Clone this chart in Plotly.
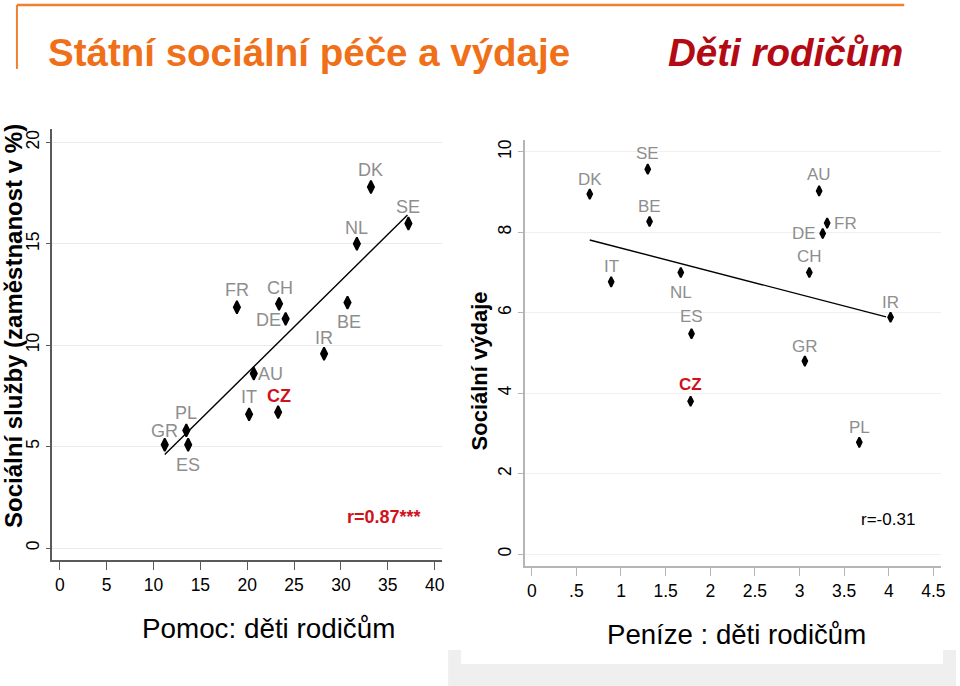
import plotly.graph_objects as go

W, H = 960, 686

# ---------------- data ----------------
left_countries = ["DK", "SE", "NL", "FR", "CH", "DE", "BE", "IR", "AU", "IT", "CZ", "PL", "GR", "ES"]
left_x = [33.2, 37.2, 31.7, 18.9, 23.4, 24.1, 30.7, 28.2, 20.7, 20.2, 23.3, 13.5, 11.2, 13.7]
left_y = [17.8, 16.0, 15.0, 11.87, 12.04, 11.3, 12.1, 9.58, 8.6, 6.59, 6.7, 5.8, 5.09, 5.09]
left_fit_x = [11.2, 37.1]
left_fit_y = [4.61, 16.42]

right_countries = ["DK", "SE", "BE", "IT", "NL", "ES", "CZ", "AU", "FR", "DE", "CH", "GR", "IR", "PL"]
right_x = [0.65, 1.30, 1.32, 0.89, 1.67, 1.79, 1.78, 3.22, 3.31, 3.26, 3.11, 3.06, 4.02, 3.67]
right_y = [8.95, 9.57, 8.27, 6.77, 7.0, 5.48, 3.80, 9.03, 8.23, 7.97, 7.0, 4.8, 5.89, 2.78]
right_fit_x = [0.65, 3.97]
right_fit_y = [7.81, 5.90]

left_xticks = [0, 5, 10, 15, 20, 25, 30, 35, 40]
left_yticks = [0, 5, 10, 15, 20]
right_xticks = [0, 0.5, 1, 1.5, 2, 2.5, 3, 3.5, 4, 4.5]
right_xticktext = ["0", ".5", "1", "1.5", "2", "2.5", "3", "3.5", "4", "4.5"]
right_yticks = [0, 2, 4, 6, 8, 10]

title_left = "Státní sociální péče a výdaje"
title_right = "Děti rodičům"
left_ytitle = "Sociální služby (zaměstnanost v %)"
left_xtitle = "Pomoc: děti rodičům"
right_ytitle = "Sociální výdaje"
right_xtitle = "Peníze : děti rodičům"
left_r = "r=0.87***"
right_r = "r=-0.31"

# label offsets in pixels (xshift, yshift)
left_label_pos = {"DK": (0, 17), "SE": (0, 17), "NL": (0, 16), "FR": (0, 17), "CH": (1, 16),
                  "DE": (-17, -1), "BE": (1, -19), "IR": (0, 16), "AU": (17, 0), "IT": (0, 17),
                  "CZ": (1, 16), "PL": (0, 17), "GR": (0, 14), "ES": (0, -20)}
right_label_pos = {"DK": (0, 15), "SE": (0, 16), "BE": (0, 15), "IT": (0, 15), "NL": (0, -20),
                   "ES": (0, 17), "CZ": (0, 17), "AU": (0, 16), "FR": (18, 0), "DE": (-19, 0),
                   "CH": (0, 16), "GR": (0, 15), "IR": (0, 15), "PL": (0, 15)}

FONT = "Arial, Liberation Sans, sans-serif"
LABEL_GRAY = "#8E8E8E"
CZ_RED = "#D0121B"


def px(x):
    return x / W


def py(y):
    return 1 - y / H


fig = go.Figure()

# left scatter + fit
fig.add_trace(go.Scatter(x=left_fit_x, y=left_fit_y, mode="lines",
                         line=dict(color="black", width=1.4), xaxis="x", yaxis="y", hoverinfo="skip"))
fig.add_trace(go.Scatter(x=left_x, y=left_y, mode="markers",
                         marker=dict(symbol="diamond-tall", size=9, color="black",
                                     line=dict(color="black", width=1.8)),
                         xaxis="x", yaxis="y"))
# right scatter + fit
fig.add_trace(go.Scatter(x=right_fit_x, y=right_fit_y, mode="lines",
                         line=dict(color="black", width=1.4), xaxis="x2", yaxis="y2", hoverinfo="skip"))
fig.add_trace(go.Scatter(x=right_x, y=right_y, mode="markers",
                         marker=dict(symbol="diamond-tall", size=7, color="black",
                                     line=dict(color="black", width=1.8)),
                         xaxis="x2", yaxis="y2"))

annotations = []
for c, x, y in zip(left_countries, left_x, left_y):
    dx, dy = left_label_pos[c]
    is_cz = c == "CZ"
    annotations.append(dict(x=x, y=y, xref="x", yref="y", text=f"<b>{c}</b>" if is_cz else c,
                            showarrow=False, xshift=dx, yshift=dy,
                            font=dict(family=FONT, size=18, color=CZ_RED if is_cz else LABEL_GRAY)))
for c, x, y in zip(right_countries, right_x, right_y):
    dx, dy = right_label_pos[c]
    is_cz = c == "CZ"
    annotations.append(dict(x=x, y=y, xref="x2", yref="y2", text=f"<b>{c}</b>" if is_cz else c,
                            showarrow=False, xshift=dx, yshift=dy,
                            font=dict(family=FONT, size=17, color=CZ_RED if is_cz else LABEL_GRAY)))

# r values
annotations.append(dict(x=px(386), y=py(517), xref="paper", yref="paper", text=f"<b>{left_r}</b>",
                        showarrow=False, xanchor="center", yanchor="middle",
                        font=dict(family=FONT, size=18, color=CZ_RED)))
annotations.append(dict(x=px(892), y=py(519), xref="paper", yref="paper", text=right_r,
                        showarrow=False, xanchor="center", yanchor="middle",
                        font=dict(family=FONT, size=17, color="black")))

# titles
annotations.append(dict(x=px(46), y=py(52), xref="paper", yref="paper", text=f"<b>{title_left}</b>",
                        showarrow=False, xanchor="left", yanchor="middle",
                        font=dict(family=FONT, size=38.5, color="#F0701A")))
annotations.append(dict(x=px(909), y=py(52), xref="paper", yref="paper", text=f"<b><i>{title_right}</i></b>",
                        showarrow=False, xanchor="right", yanchor="middle",
                        font=dict(family=FONT, size=38.5, color="#B40A14")))

# axis titles
annotations.append(dict(x=px(13.5), y=py(325), xref="paper", yref="paper", text=f"<b>{left_ytitle}</b>",
                        showarrow=False, textangle=-90, xanchor="center", yanchor="middle",
                        font=dict(family=FONT, size=24, color="black")))
annotations.append(dict(x=px(270), y=py(628), xref="paper", yref="paper", text=left_xtitle,
                        showarrow=False, xanchor="center", yanchor="middle",
                        font=dict(family=FONT, size=27.8, color="black")))
annotations.append(dict(x=px(481), y=py(370), xref="paper", yref="paper", text=f"<b>{right_ytitle}</b>",
                        showarrow=False, textangle=-90, xanchor="center", yanchor="middle",
                        font=dict(family=FONT, size=22, color="black")))
annotations.append(dict(x=px(740), y=py(634), xref="paper", yref="paper", text=right_xtitle,
                        showarrow=False, xanchor="center", yanchor="middle",
                        font=dict(family=FONT, size=27.6, color="black")))

shapes = [
    # orange frame of the slide header
    dict(type="line", xref="paper", yref="paper", x0=px(17), y0=py(4), x1=px(908), y1=py(4),
         line=dict(color="#EE8030", width=2.5)),
    dict(type="line", xref="paper", yref="paper", x0=px(17), y0=py(4), x1=px(17), y1=py(68),
         line=dict(color="#EE8030", width=2)),
    # gray band at bottom right
    dict(type="rect", xref="paper", yref="paper", x0=px(450), y0=py(650), x1=px(960), y1=py(686),
         fillcolor="#EFEFEF", line=dict(width=0), layer="below"),
    dict(type="rect", xref="paper", yref="paper", x0=px(463), y0=py(640), x1=px(947), y1=py(664),
         fillcolor="white", line=dict(width=0), layer="below"),
]

tickfont = dict(family=FONT, size=17.5, color="black")

fig.update_layout(
    width=W, height=H, margin=dict(l=0, r=0, t=0, b=0),
    paper_bgcolor="white", plot_bgcolor="rgba(0,0,0,0)",
    showlegend=False,
    annotations=annotations, shapes=shapes,
    xaxis=dict(domain=[px(52.7), px(444)], range=[-0.78, 40.8], tickvals=left_xticks,
               showgrid=False, zeroline=False, showline=True, linecolor="#5A5A5A", linewidth=1.5,
               ticks="outside", ticklen=8, tickcolor="#5A5A5A", tickfont=tickfont, anchor="y"),
    yaxis=dict(domain=[py(560), py(128)], range=[-0.6, 20.67], tickvals=left_yticks,
               showgrid=True, gridcolor="#EAEAEA", gridwidth=1, zeroline=False,
               showline=True, linecolor="#5A5A5A", linewidth=1.5,
               ticks="outside", ticklen=5, tickcolor="#5A5A5A", tickangle=-90, tickfont=tickfont,
               anchor="x"),
    xaxis2=dict(domain=[px(526.7), px(945)], range=[-0.081, 4.586], tickvals=right_xticks,
                ticktext=right_xticktext,
                showgrid=False, zeroline=False, showline=True, linecolor="#B5B5B5", linewidth=1.5,
                ticks="outside", ticklen=8, tickcolor="#B5B5B5", tickfont=tickfont, anchor="y2"),
    yaxis2=dict(domain=[py(565.7), py(139)], range=[-0.29, 10.3], tickvals=right_yticks,
                showgrid=True, gridcolor="#F0F0F0", gridwidth=1, zeroline=False,
                showline=True, linecolor="#B5B5B5", linewidth=1.5,
                ticks="outside", ticklen=5, tickcolor="#B5B5B5", tickangle=-90, tickfont=tickfont,
                anchor="x2"),
)

fig.write_html("out.html", config={"displayModeBar": False},
               post_script="document.body.style.margin='0';document.body.style.overflow='hidden';")
